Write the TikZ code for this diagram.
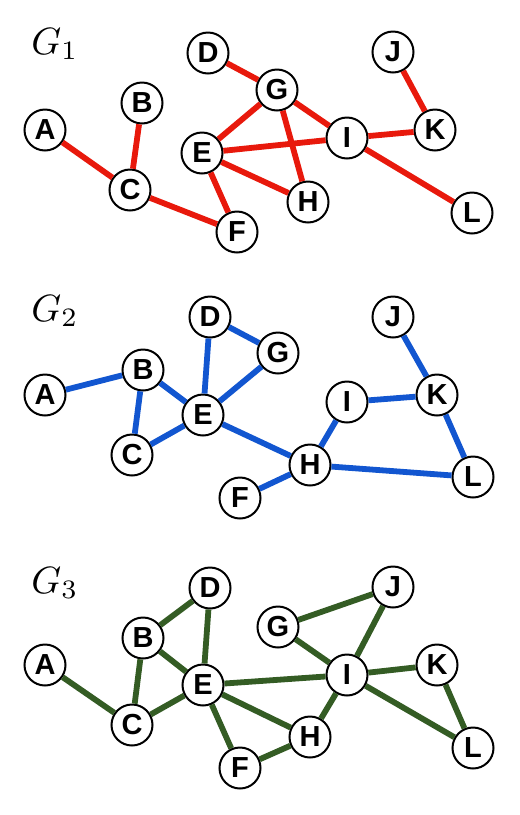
\documentclass[tikz,border=0pt]{standalone}
\usepackage{amsmath,amssymb,xcolor}
\usepackage{fontspec}
\setsansfont{Liberation Sans}
\usetikzlibrary{graphs}

\definecolor{gred}{RGB}{232,25,12}
\definecolor{gblue}{RGB}{18,86,208}
\definecolor{ggreen}{RGB}{52,92,36}

\tikzset{
  vertex/.style={circle, draw, fill=white, line width=2pt, minimum size=41pt, inner sep=0pt,
    font=\sffamily\bfseries\fontsize{29}{29}\selectfont},
  glabel/.style={anchor=base west, scale=3.8},
  redline/.style={draw=gred, line width=5.8pt},
  blueline/.style={draw=gblue, line width=5.8pt},
  greenline/.style={draw=ggreen, line width=5.8pt}
}

\begin{document}
\begin{tikzpicture}[x=1pt, y=-1pt]
    \useasboundingbox (0,0) rectangle (520,815);

    % G_1
    \node[glabel] (g1) at (18,54) {$G_1$};
    \graph [no placement, nodes={vertex}, edges={redline}] {
        a1/A [at={(45,130)}],
        b1/B [at={(142,103)}],
        c1/C [at={(130,190)}],
        d1/D [at={(208,53)}],
        e1/E [at={(202,153)}],
        f1/F [at={(237,232)}],
        g1n/G [at={(277,90)}],
        h1/H [at={(308,202)}],
        i1/I [at={(347,138)}],
        j1/J [at={(393,52)}],
        k1/K [at={(435,130)}],
        l1/L [at={(472,213)}];
        a1 -- c1, b1 -- c1, c1 -- f1,
        d1 -- g1n, g1n -- e1, g1n -- i1, g1n -- h1,
        e1 -- i1, e1 -- h1, e1 -- f1,
        i1 -- k1, j1 -- k1, i1 -- l1
    };

    % G_2
    \node[glabel] (g2) at (18,321) {$G_2$};
    \graph [no placement, nodes={vertex}, edges={blueline}] {
        a2/A [at={(45,395)}],
        b2/B [at={(143,370)}],
        c2/C [at={(132,455)}],
        d2/D [at={(210,317)}],
        e2/E [at={(203,415)}],
        f2/F [at={(240,498)}],
        g2n/G [at={(278,353)}],
        h2/H [at={(310,465)}],
        i2/I [at={(347,402)}],
        j2/J [at={(393,317)}],
        k2/K [at={(437,395)}],
        l2/L [at={(473,477)}];
        a2 -- b2, b2 -- c2, b2 -- e2, c2 -- e2,
        d2 -- e2, d2 -- g2n, g2n -- e2, e2 -- h2,
        f2 -- h2, h2 -- i2, h2 -- l2,
        i2 -- k2, j2 -- k2, k2 -- l2
    };

    % G_3
    \node[glabel] (g3) at (18,593) {$G_3$};
    \graph [no placement, nodes={vertex}, edges={greenline}] {
        a3/A [at={(45,665)}],
        b3/B [at={(143,638)}],
        c3/C [at={(132,725)}],
        d3/D [at={(210,588)}],
        e3/E [at={(203,685)}],
        f3/F [at={(240,768)}],
        g3n/G [at={(278,627)}],
        h3/H [at={(310,737)}],
        i3/I [at={(347,675)}],
        j3/J [at={(393,587)}],
        k3/K [at={(437,665)}],
        l3/L [at={(473,748)}];
        a3 -- c3, b3 -- c3, b3 -- d3, b3 -- e3,
        d3 -- e3, c3 -- e3, e3 -- i3, e3 -- h3, e3 -- f3,
        f3 -- h3, h3 -- i3, g3n -- i3, g3n -- j3, j3 -- i3,
        i3 -- k3, i3 -- l3, k3 -- l3
    };
\end{tikzpicture}
\end{document}
